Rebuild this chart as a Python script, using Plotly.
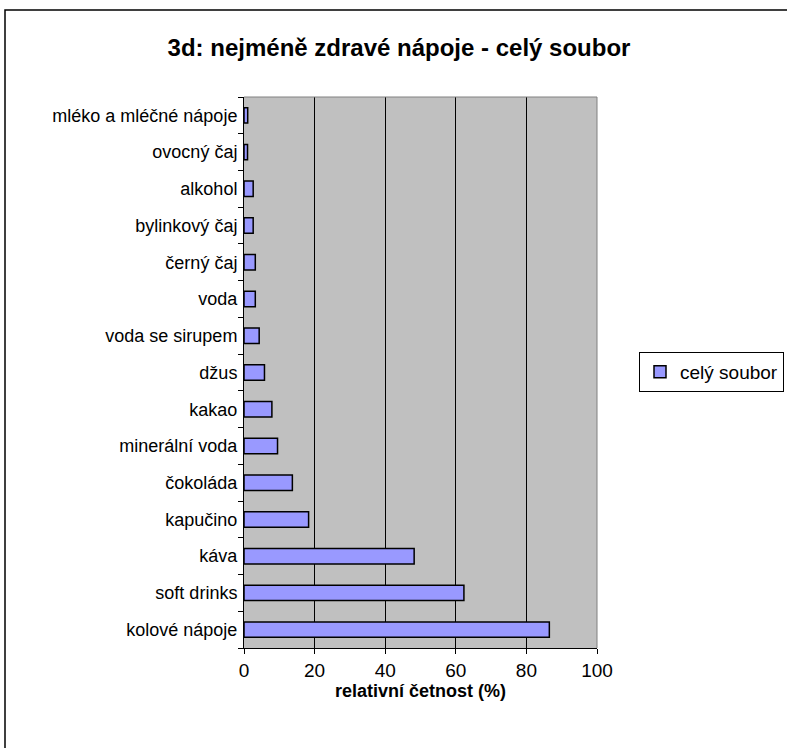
import plotly.graph_objects as go

categories = ["kolové nápoje", "soft drinks", "káva", "kapučino", "čokoláda",
              "minerální voda", "kakao", "džus", "voda se sirupem", "voda",
              "černý čaj", "bylinkový čaj", "alkohol", "ovocný čaj",
              "mléko a mléčné nápoje"]
values = [86.5, 62.3, 48.2, 18.3, 13.7, 9.5, 7.9, 5.8, 4.3, 3.2, 3.2, 2.6, 2.6, 1.0, 1.05]
x_ticks = [0, 20, 40, 60, 80, 100]
series_name = "celý soubor"

W, H = 787, 748
L, R, T, B = 244, 597, 97, 648
pw, ph = R - L, B - T

fig = go.Figure()
fig.add_trace(go.Bar(
    y=categories, x=values, orientation="h", name=series_name,
    marker=dict(color="#9999FF", line=dict(color="black", width=1.5)),
    width=0.42, showlegend=True,
))

font = "Liberation Sans, Arial, sans-serif"
fig.update_layout(
    width=W, height=H,
    margin=dict(l=L, r=W - R, t=T, b=H - B, pad=0, autoexpand=False),
    paper_bgcolor="white", plot_bgcolor="#C0C0C0",
    font=dict(family=font, size=17, color="black"),
    title=dict(text="<b>3d: nejméně zdravé nápoje - celý soubor</b>",
               x=399 / W, xanchor="center", y=1 - 48 / H, yanchor="middle",
               font=dict(size=24, family=font)),
    showlegend=True,
    legend=dict(x=(639 - L) / pw, xanchor="left", y=1 - (352 - T) / ph, yanchor="top",
                bordercolor="black", borderwidth=1, bgcolor="white",
                font=dict(size=19, family=font), itemwidth=30,
                tracegroupgap=0),
    bargap=0.58,
)
fig.update_xaxes(range=[0, 100], tickvals=x_ticks, showgrid=True, gridcolor="black",
                 gridwidth=1, zeroline=False, showline=True, linecolor="black",
                 linewidth=1, mirror=False, ticks="outside", ticklen=5,
                 tickcolor="black", tickfont=dict(size=19),
                 title=dict(text="<b>relativní četnost (%)</b>", font=dict(size=18), standoff=4))
fig.update_yaxes(type="category", categoryorder="array", categoryarray=categories,
                 showgrid=False, showline=True, linecolor="black", linewidth=1,
                 ticks="outside", ticklen=5, tickcolor="black", tickson="boundaries",
                 tickfont=dict(size=18), ticklabelstandoff=2)
# plot area right/top border (gray)
fig.add_shape(type="line", xref="paper", yref="paper", x0=1, x1=1, y0=0, y1=1,
              line=dict(color="#808080", width=1))
fig.add_shape(type="line", xref="paper", yref="paper", x0=0, x1=1, y0=1, y1=1,
              line=dict(color="#808080", width=1))
# chart outer frame
fig.add_shape(type="rect", xref="paper", yref="paper",
              x0=(5 - L) / pw, x1=(800 - L) / pw,
              y0=1 - (760 - T) / ph, y1=1 + (T - 10) / ph,
              line=dict(color="black", width=1.5), layer="below")
fig.write_html("out.html")
